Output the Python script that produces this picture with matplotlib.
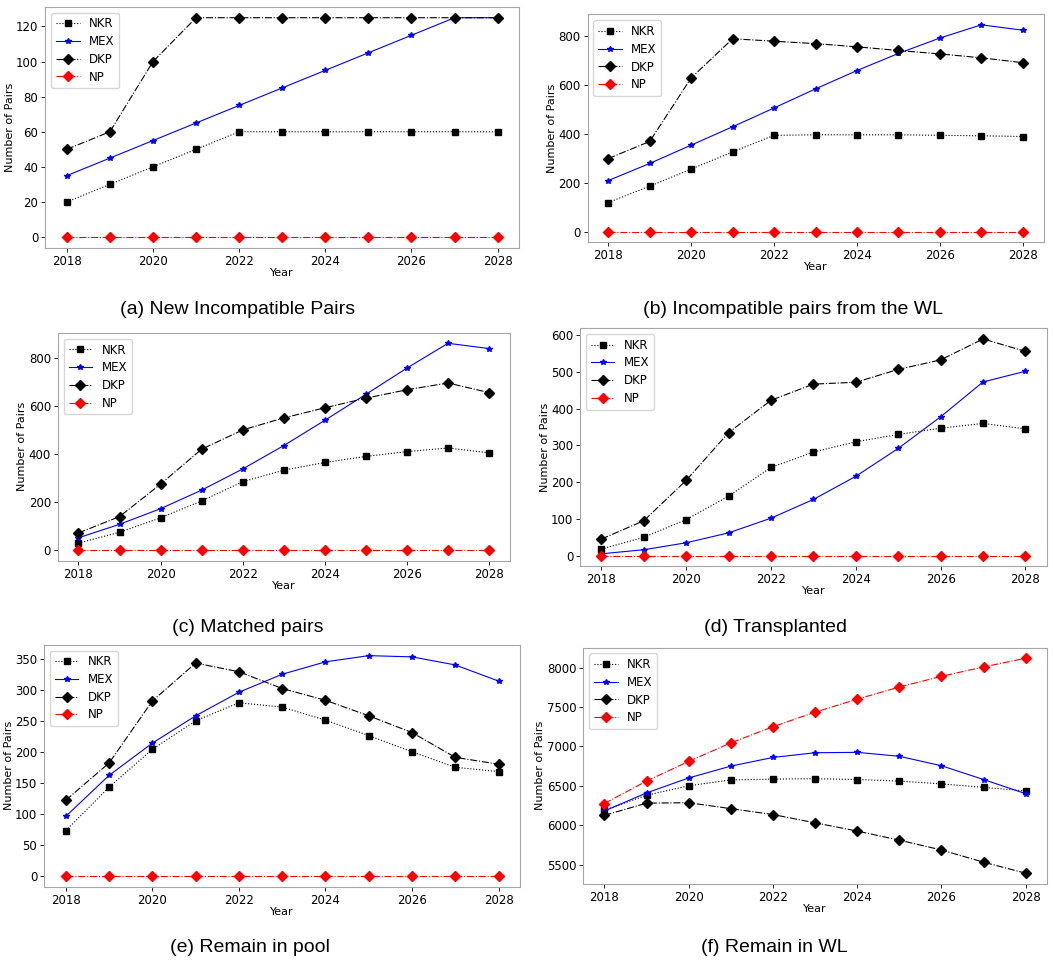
import matplotlib
matplotlib.use("Agg")
import matplotlib.pyplot as plt

anos = list(range(2018, 2029))

# (a) New Incompatible Pairs
a_nkr = [20, 30, 40, 50, 60, 60, 60, 60, 60, 60, 60]
a_mex = [35, 45, 55, 65, 75, 85, 95, 105, 115, 125, 125]
a_dkp = [50, 60, 100, 125, 125, 125, 125, 125, 125, 125, 125]
a_np = [0] * 11

# (b) Incompatible pairs from the WL
b_nkr = [120, 187, 257, 327, 395, 397, 397, 397, 395, 393, 390]
b_mex = [210, 280, 355, 430, 507, 585, 660, 730, 793, 847, 825]
b_dkp = [300, 370, 630, 790, 780, 770, 757, 742, 728, 712, 692]
b_np = [0] * 11

# (c) Matched pairs
c_nkr = [30, 75, 135, 205, 285, 333, 365, 390, 410, 425, 405]
c_mex = [52, 108, 173, 250, 338, 435, 540, 648, 757, 860, 838]
c_dkp = [72, 140, 275, 420, 500, 550, 592, 632, 667, 695, 655]
c_np = [0] * 11

# (d) Transplanted
d_nkr = [18, 50, 98, 162, 240, 282, 310, 330, 347, 360, 345]
d_mex = [5, 16, 35, 62, 102, 153, 216, 292, 378, 473, 502]
d_dkp = [45, 95, 205, 335, 423, 467, 472, 507, 533, 590, 556]
d_np = [0] * 11

# (e) Remain in pool
e_nkr = [73, 143, 204, 250, 279, 272, 251, 226, 200, 175, 168]
e_mex = [96, 162, 214, 258, 296, 325, 345, 355, 353, 340, 314]
e_dkp = [122, 182, 282, 343, 329, 302, 283, 258, 231, 191, 180]
e_np = [0] * 11

# (f) Remain in WL
f_nkr = [6190, 6380, 6500, 6575, 6585, 6590, 6580, 6560, 6525, 6480, 6435]
f_mex = [6180, 6410, 6600, 6750, 6860, 6920, 6925, 6875, 6755, 6580, 6400]
f_dkp = [6125, 6280, 6285, 6210, 6135, 6030, 5925, 5810, 5685, 5530, 5390]
f_np = [6275, 6560, 6810, 7045, 7250, 7435, 7600, 7755, 7890, 8010, 8120]

paineis = [
    ("(a) New Incompatible Pairs", a_nkr, a_mex, a_dkp, a_np,
     [0.043, 0.743, 0.450, 0.250], (238, 310)),
    ("(b) Incompatible pairs from the WL", b_nkr, b_mex, b_dkp, b_np,
     [0.558, 0.749, 0.433, 0.236], (793, 310)),
    ("(c) Matched pairs", c_nkr, c_mex, c_dkp, c_np,
     [0.055, 0.419, 0.429, 0.236], (248, 628)),
    ("(d) Transplanted", d_nkr, d_mex, d_dkp, d_np,
     [0.551, 0.413, 0.443, 0.247], (776, 628)),
    ("(e) Remain in pool", e_nkr, e_mex, e_dkp, e_np,
     [0.042, 0.081, 0.452, 0.251], (250, 948)),
    ("(f) Remain in WL", f_nkr, f_mex, f_dkp, f_np,
     [0.554, 0.084, 0.440, 0.245], (774, 948)),
]

fig = plt.figure(figsize=(10.53, 9.65), dpi=100)

for titulo, nkr, mex, dkp, np_, pos, (cx, cy) in paineis:
    ax = fig.add_axes(pos)
    ax.plot(anos, nkr, color='k', linestyle=':', marker='s', markersize=5,
            linewidth=0.8, label='NKR')
    ax.plot(anos, mex, color='b', linestyle='-', marker='*', markersize=4,
            linewidth=0.8, label='MEX')
    ax.plot(anos, dkp, color='k', linestyle='-.', marker='D', markersize=5,
            linewidth=0.8, label='DKP')
    ax.plot(anos, np_, color='r', linestyle='-.', marker='D', markersize=5,
            linewidth=0.8, label='NP')
    ax.set_xticks(range(2018, 2029, 2))
    ax.set_xlabel('Year', fontsize=8, labelpad=0)
    ax.set_ylabel('Number of Pairs', fontsize=8, labelpad=1)
    ax.tick_params(labelsize=8.5, length=3, width=0.6, pad=2)
    for sp in ax.spines.values():
        sp.set_color('0.65')
        sp.set_linewidth(0.8)
    ax.legend(loc='upper left', fontsize=8.5, handlelength=2.0, borderpad=0.4,
              labelspacing=0.4)
    fig.text(cx / 1053, 1 - cy / 965, titulo, ha='center', va='center',
             fontsize=14, family='Liberation Sans')

fig.savefig('out.png', dpi=100)
